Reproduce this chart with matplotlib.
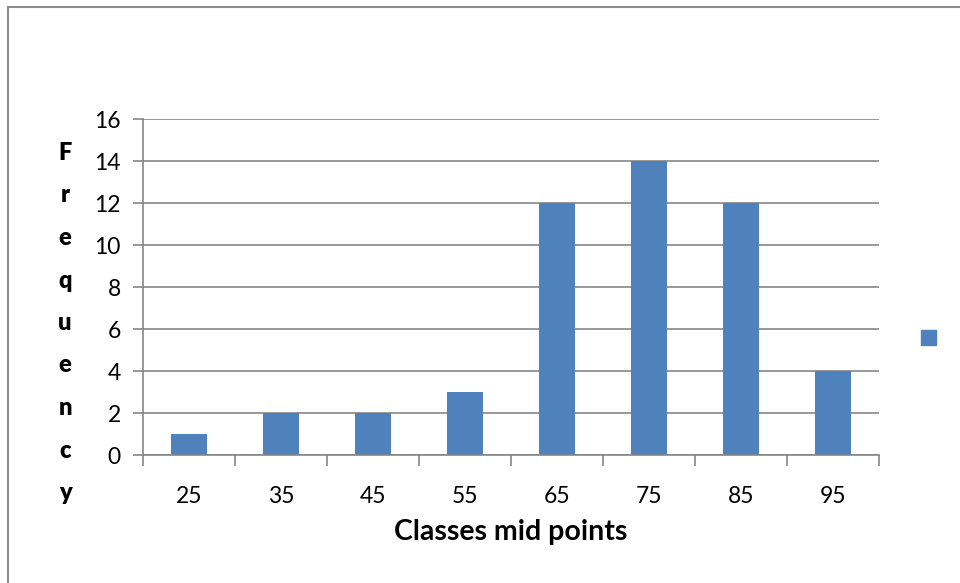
import matplotlib.pyplot as plt
from matplotlib.patches import Rectangle

midpoints = ["25", "35", "45", "55", "65", "75", "85", "95"]
frequency = [1, 2, 2, 3, 12, 14, 12, 4]
y_ticks = [0, 2, 4, 6, 8, 10, 12, 14, 16]

blue = "#4F81BD"
grey = "#868686"
plt.rcParams['font.family'] = ['Lato', 'DejaVu Sans']

W, H = 960, 583
fig = plt.figure(figsize=(W / 100, H / 100), dpi=100)

# outer chart frame (right/bottom edges fall outside the picture)
fig.patches.append(Rectangle((8 / W, -0.1), 1.2, 1 - 7 / H + 0.1, transform=fig.transFigure,
                             fill=False, edgecolor="#8c8c8c", linewidth=1.5))

ax = fig.add_axes([143 / W, 1 - 455 / H, (879 - 143) / W, (455 - 119) / H])
x = range(len(midpoints))
ax.bar(x, frequency, width=0.4, color=blue, zorder=3)
ax.set_xlim(-0.5, len(midpoints) - 0.5)
ax.set_ylim(0, 16)
ax.set_yticks(y_ticks)
ax.set_xticks(list(x))
ax.set_xticklabels(midpoints)
ax.set_xticks([i - 0.5 for i in range(len(midpoints) + 1)], minor=True)
ax.tick_params(axis='x', which='major', length=0, pad=22, labelsize=16.5)
ax.tick_params(axis='x', which='minor', length=8, width=1.2, color=grey)
ax.tick_params(axis='y', length=7, width=1.2, color=grey, pad=9, labelsize=16.5)
ax.grid(axis='y', color=grey, linewidth=1.2, zorder=0)
for s in ['top', 'right']:
    ax.spines[s].set_visible(False)
for s in ['left', 'bottom']:
    ax.spines[s].set_color(grey)
    ax.spines[s].set_linewidth(1.2)
ax.spines['bottom'].set_zorder(4)

ax.set_xlabel("Classes mid points", fontsize=20.5, fontweight='bold', labelpad=9)

# vertical stacked y label
for i, ch in enumerate("Frequency"):
    fig.text(65 / W, 1 - (153 + i * 42.5) / H, ch, fontsize=17, fontweight='heavy',
             ha='center', va='center')

# legend marker without label
fig.patches.append(Rectangle((921 / W, 1 - 345 / H), 15 / W, 15 / H,
                             transform=fig.transFigure, color=blue))

fig.savefig("out.png", dpi=100)
